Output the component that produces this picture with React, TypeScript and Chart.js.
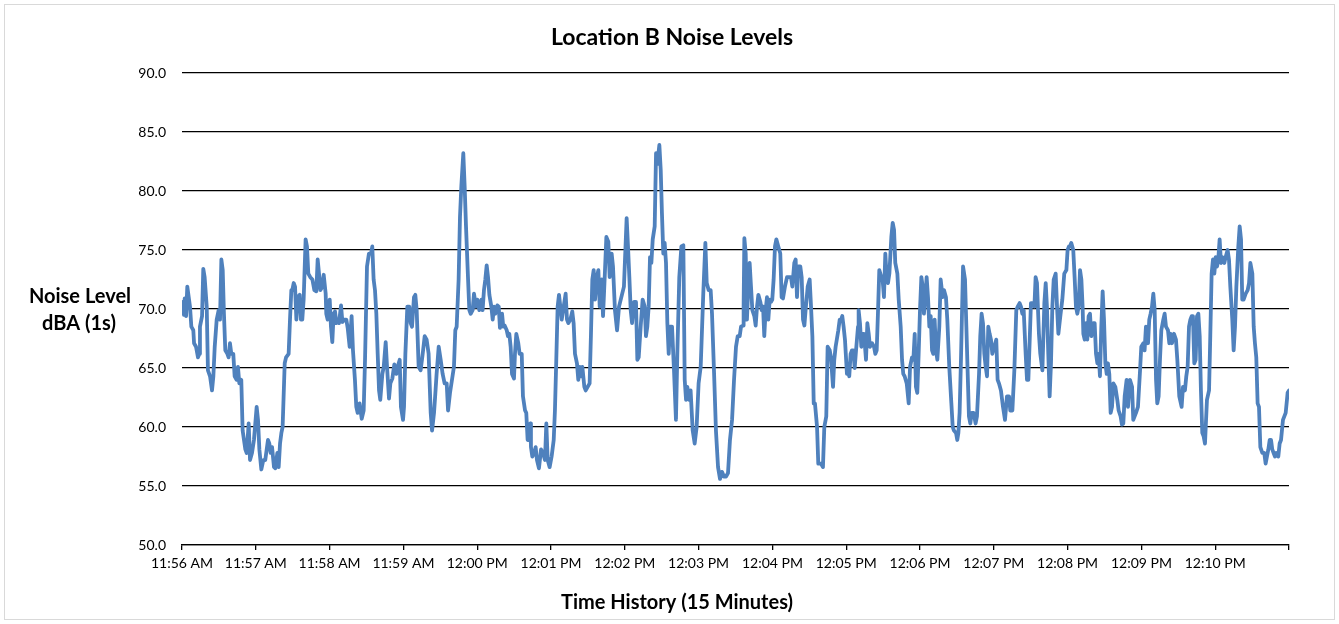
import React, { useEffect, useRef } from "react";
import { Chart, registerables } from "chart.js";

Chart.register(...registerables);

const chartTitle = "Location B Noise Levels";
const yAxisTitle = ["Noise Level", "dBA (1s)"];
const xAxisTitle = "Time History (15 Minutes)";
const xTickLabels = [
  "11:56 AM", "11:57 AM", "11:58 AM", "11:59 AM", "12:00 PM", "12:01 PM", "12:02 PM", "12:03 PM",
  "12:04 PM", "12:05 PM", "12:06 PM", "12:07 PM", "12:08 PM", "12:09 PM", "12:10 PM",
];

// elapsed seconds since 11:56:00 AM
const seconds = [
  0, 1.6, 2.2, 3.3, 4.3, 6.5, 7.6, 9.2, 9.8, 11.4, 13.0, 14.1, 14.6, 16.3, 17.3, 18.4, 20.1, 21.1, 22.8, 24.4,
  25.5, 26.6, 28.2, 29.8, 30.9, 32.0, 33.1, 34.1, 35.2, 36.9, 37.9, 39.0, 40.1, 41.7, 42.8, 44.4, 45.5, 46.6, 48.2, 49.3,
  51.5, 52.6, 54.2, 55.3, 56.9, 58.5, 60.7, 61.8, 62.9, 64.5, 66.1, 67.7, 69.9, 71.0, 72.1, 73.2, 74.8, 75.9, 77.5, 78.6,
  79.7, 80.8, 81.8, 83.5, 84.6, 86.7, 87.8, 88.9,
  89.7, 90.8, 91.9, 93.0, 94.0, 95.7, 96.7, 97.8, 98.9, 100.5, 101.6, 102.7, 104.3, 106.0, 107.6, 109.2, 110.3, 111.4, 112.5, 113.6,
  115.2, 116.8, 117.3, 118.4, 120.1, 121.1, 122.2, 123.3, 124.4, 125.5, 126.6, 127.6, 129.3, 130.4, 132.0, 133.6, 134.7, 136.3, 137.9, 139.0,
  140.6, 141.7, 142.8, 144.4, 146.1, 147.7, 148.8, 150.4, 152.0, 153.7, 154.7, 155.8, 156.9, 158.0, 159.1, 160.2, 161.2, 162.9, 164.0, 165.6,
  166.7, 168.3, 169.4, 171.0, 172.6, 174.3, 175.3, 177.0, 178.0, 179.7,
  180.5, 181.6, 183.2, 184.8, 185.9, 187.0, 188.6, 189.7, 190.8, 192.4, 194.0, 195.7, 197.3, 198.9, 200.5, 202.2, 203.3, 204.9, 206.0, 207.0,
  208.7, 210.3, 211.9, 213.5, 215.2, 216.3, 217.9, 219.5, 221.1, 222.2, 223.3, 224.9, 226.0, 227.1, 228.7, 229.8, 230.9, 232.5, 233.6, 234.7,
  236.3, 237.4, 239.0, 240.1, 241.7, 243.4, 244.4, 245.5, 246.6, 247.7, 248.8, 249.9, 251.5, 252.6, 253.7, 254.7, 256.4, 257.5, 258.5, 260.2,
  261.2, 262.3, 264.0, 265.0, 266.1, 267.2, 268.3, 269.9,
  270.7, 271.8, 273.4, 274.5, 276.2, 277.2, 278.9, 279.9, 281.0, 282.1, 283.2, 283.7, 284.8, 286.4, 287.5, 288.6, 290.2, 291.9, 293.5, 295.1,
  296.2, 297.3, 298.9, 300.5, 302.2, 303.2, 304.3, 305.4, 306.5, 307.6, 308.7, 310.3, 311.9, 313.0, 314.1, 315.7, 317.3, 318.4, 319.5, 321.1,
  322.2, 323.3, 324.4, 325.5, 327.1, 328.2, 329.8, 331.4, 332.5, 333.6, 334.7, 335.8, 336.9, 338.5, 339.6, 341.2, 342.3, 343.9, 345.0, 346.6,
  347.7, 349.3, 350.4, 352.0, 353.7, 355.3,
  359.3, 361.5, 362.6, 363.7, 364.8, 365.9, 367.5, 369.1, 370.2, 371.3, 372.9, 374.5, 376.2, 377.2, 378.3, 379.4, 380.5, 381.6, 382.7, 384.3,
  385.4, 386.4, 388.1, 389.2, 390.2, 391.3, 392.4, 393.5, 394.6, 395.7, 396.7, 398.4, 400.0, 401.6, 402.7, 404.3, 406.0, 407.6, 408.7, 409.8,
  410.8, 412.5, 413.5, 415.2, 416.8, 418.4, 420.0, 421.7, 423.8, 425.5, 426.6, 428.2, 429.8, 430.9, 432.5, 434.1, 435.8, 437.4, 439.0, 440.6,
  442.3, 443.9, 445.5, 447.2, 448.8, 450.4,
  451.8, 453.4, 454.5, 456.1, 456.6, 457.2, 458.3, 459.3, 460.4, 461.5, 462.6, 463.7, 465.3, 466.4, 467.5, 468.6, 470.2, 471.3, 472.4, 473.4,
  474.5, 475.6, 476.7, 477.8, 478.9, 479.9, 481.0, 482.1, 483.2, 484.8, 486.4, 487.5, 488.6, 490.2, 491.9, 493.5, 495.1, 496.2, 497.8, 498.9,
  500.0, 501.1, 502.7, 503.8, 504.9, 506.0, 507.0, 508.7, 510.3, 511.4, 512.5, 513.6, 514.6, 516.3, 517.3, 519.5, 521.1, 522.2, 523.8, 524.9,
  526.6, 527.6, 529.3, 530.3, 531.4, 533.6, 534.7, 535.8, 536.8, 537.9, 539.0, 540.6,
  541.5, 542.5, 543.6, 544.7, 545.8, 546.9, 548.0, 549.6, 550.1, 551.2, 552.3, 553.4, 554.5, 556.1, 557.2, 558.3, 559.3, 561.0, 562.6, 563.7,
  564.8, 565.8, 566.9, 568.6, 569.6, 570.7, 571.8, 572.9, 574.0, 575.1, 576.7, 577.8, 578.9, 579.9, 581.6, 582.7, 584.3, 585.4, 586.4, 587.5,
  589.2, 590.8, 591.9, 593.5, 594.6, 595.7, 596.7, 597.8, 598.9, 600.0, 601.1, 602.2, 603.2, 604.3, 605.4, 606.5, 607.6, 608.7, 609.8, 610.8,
  611.9, 613.0, 614.1, 615.7, 616.8, 618.4, 619.5, 621.1, 622.2, 623.8, 625.5, 626.6, 627.6, 629.3, 630.3,
  631.2, 632.2, 633.3, 635.0, 636.6, 637.7, 638.7, 639.8, 640.9, 642.0, 643.6, 645.2, 646.3, 648.0, 649.0, 650.1, 651.2, 652.3, 653.4, 654.5,
  655.5, 656.6, 657.7, 658.8, 660.4, 662.0, 663.1, 664.2, 665.8, 667.5, 669.1, 670.7, 672.4, 673.4, 675.1, 676.7, 678.3, 679.4, 681.0, 682.1,
  683.2, 684.3, 685.9, 687.0, 688.1, 689.2, 690.2, 691.9, 693.0, 694.0, 695.1, 696.7, 697.8, 699.5, 701.1, 702.2, 703.2, 704.3, 705.4, 706.5,
  707.6, 708.7, 710.3, 711.4, 712.5, 714.1, 715.7, 717.3, 719.0, 720.0, 721.1,
  721.9, 723.0, 724.6, 725.7, 726.8, 727.9, 729.0, 730.1, 731.2, 732.2, 732.8, 733.9, 735.0, 736.0, 737.1, 738.2, 739.3, 740.9, 742.0, 743.1,
  744.2, 745.3, 746.3, 747.4, 748.5, 749.6, 750.7, 751.8, 752.8, 753.9, 755.0, 756.1, 757.2, 758.8, 760.4, 761.5, 763.1, 764.2, 765.3, 766.4,
  768.0, 769.1, 770.7, 772.4, 773.4, 774.5, 775.6, 777.2, 778.9, 779.9, 781.6, 782.6, 783.7, 785.4, 786.4, 787.5, 788.6, 789.7, 790.8, 791.9,
  792.9, 794.0, 795.1, 796.2, 797.8, 798.9, 800.0, 801.6, 802.7, 803.8, 804.9, 806.5, 808.1, 809.2, 810.8,
  812.7, 813.8, 815.4, 816.5, 817.6, 818.7, 819.8, 820.9, 821.9, 823.0, 824.1, 825.2, 826.3, 827.4, 828.4, 829.5, 830.6, 831.7, 833.3, 835.0,
  836.0, 837.1, 838.2, 839.3, 840.4, 841.5, 842.5, 843.6, 844.7, 845.8, 847.4, 848.5, 850.1, 851.2, 852.3, 853.9, 855.0, 856.1, 857.2, 858.8,
  859.9, 861.0, 862.0, 863.1, 864.8, 866.4, 867.5, 868.6, 870.2, 871.3, 872.3, 873.4, 874.5, 875.6, 876.7, 878.3, 879.9, 881.0, 882.1, 883.2,
  884.3, 885.4, 886.4, 887.5, 888.6, 889.7, 891.3, 892.4, 893.5, 895.1, 896.2, 897.3, 898.9, 900.0,
];

const dba = [
  70.6, 69.5, 70.9, 69.4, 71.9, 70.2, 68.5, 68.2, 67.1, 66.8, 65.9, 66.2, 68.5, 69.4, 73.4, 72.7, 70.2, 64.8, 64.3, 63.1,
  64.3, 66.8, 69.1, 69.9, 69.1, 74.2, 73.3, 69.6, 66.5, 66.2, 65.9, 67.1, 66.2, 66.2, 64.3, 64.0, 65.1, 63.7, 64.0, 59.7,
  58.1, 57.8, 60.3, 57.2, 57.8, 58.9, 61.7, 60.6, 58.1, 56.4, 57.2, 57.2, 58.9, 58.6, 57.8, 58.3, 56.6, 56.5, 57.8, 56.6,
  58.6, 59.5, 60.0, 65.4, 65.9, 66.2, 69.1, 71.6,
  71.6, 72.2, 71.9, 69.1, 71.0, 71.2, 69.1, 69.1, 70.8, 75.9, 75.3, 73.0, 72.7, 72.5, 71.6, 71.5, 74.2, 73.0, 71.6, 71.8,
  72.9, 71.3, 69.6, 69.1, 70.8, 68.5, 67.2, 69.6, 69.8, 68.8, 69.1, 68.8, 70.3, 68.9, 69.1, 69.1, 68.4, 66.8, 69.4, 66.5,
  64.0, 61.7, 61.2, 62.0, 60.7, 61.4, 65.7, 73.6, 74.7, 74.7, 75.3, 72.5, 71.6, 69.6, 66.2, 63.1, 62.3, 64.5, 65.1, 67.2,
  65.1, 62.4, 63.7, 64.1, 65.3, 64.5, 65.1, 65.7, 61.7, 60.6,
  61.7, 66.2, 70.2, 70.2, 68.8, 68.5, 71.0, 71.2, 69.9, 65.1, 64.8, 66.2, 67.7, 67.4, 66.2, 61.2, 59.7, 61.2, 62.9, 64.5,
  66.8, 65.7, 64.5, 63.7, 63.7, 61.4, 62.9, 64.0, 65.1, 68.2, 68.5, 72.5, 77.8, 80.4, 83.2, 80.4, 77.0, 72.7, 69.9, 69.6,
  69.9, 71.3, 70.2, 70.8, 69.9, 70.8, 69.9, 71.6, 72.5, 73.7, 72.7, 71.2, 70.2, 69.1, 70.2, 69.6, 70.3, 70.2, 68.4, 69.6,
  68.5, 68.6, 68.2, 67.7, 67.9, 66.8, 64.5, 64.1,
  66.2, 67.9, 67.1, 66.2, 66.2, 62.6, 61.4, 61.2, 58.9, 58.9, 60.3, 58.3, 57.5, 57.8, 58.3, 57.2, 56.5, 58.1, 57.8, 57.2,
  60.3, 57.2, 56.6, 57.5, 58.9, 61.4, 65.7, 70.2, 71.2, 70.2, 69.1, 70.2, 71.3, 69.1, 68.8, 69.1, 69.8, 68.8, 66.2, 65.4,
  64.0, 65.1, 64.3, 65.1, 63.4, 63.1, 63.4, 63.7, 67.9, 72.5, 73.3, 70.8, 72.5, 73.3, 70.2, 72.5, 69.4, 73.3, 76.1, 75.7,
  72.7, 74.7, 73.6, 69.9, 68.2, 70.2,
  71.9, 77.7, 75.3, 72.7, 69.9, 68.8, 70.6, 70.6, 65.7, 65.9, 68.5, 70.8, 70.2, 67.7, 68.5, 70.2, 74.4, 73.9, 75.9, 77.0,
  83.2, 82.3, 83.9, 81.8, 78.1, 74.7, 75.6, 73.9, 68.8, 66.2, 68.5, 68.5, 64.8, 60.6, 66.2, 72.7, 75.3, 75.4, 64.0, 62.3,
  63.4, 62.3, 63.1, 59.7, 58.6, 60.0, 63.7, 65.1, 71.3, 75.6, 72.2, 71.6, 71.6, 69.6, 64.8, 59.7, 56.6, 55.6, 56.2, 55.8,
  55.8, 56.1, 58.9, 60.6, 64.0, 66.8,
  67.7, 67.7, 68.5, 68.6, 70.2, 76.0, 74.7, 69.1, 71.9, 73.9, 71.9, 69.9, 69.4, 68.6, 70.2, 71.2, 70.6, 69.9, 70.2, 67.7,
  69.9, 71.0, 69.1, 70.8, 70.6, 70.8, 72.5, 75.3, 75.9, 75.3, 74.7, 71.0, 70.9, 71.9, 72.7, 72.7, 72.7, 71.9, 73.9, 74.2,
  71.0, 73.6, 73.6, 72.7, 69.1, 68.6, 69.9, 71.9, 72.5, 70.2, 67.7, 62.0, 62.0, 60.0, 56.9, 56.9, 56.6, 60.0, 60.9, 66.8,
  66.5, 65.9, 63.4, 65.7, 66.8, 68.2, 69.1, 69.1, 69.4, 68.5, 67.4, 64.5,
  64.8, 64.3, 66.2, 66.5, 66.5, 65.0, 66.5, 68.5, 69.9, 68.8, 66.8, 67.9, 67.9, 65.7, 68.8, 67.9, 66.8, 67.1, 66.8, 66.2,
  66.5, 69.6, 73.3, 72.7, 72.5, 71.0, 74.7, 72.7, 72.2, 73.0, 76.1, 77.3, 76.7, 73.9, 73.0, 70.8, 68.5, 65.7, 64.5, 64.3,
  63.7, 62.0, 65.1, 65.9, 65.7, 67.9, 63.4, 62.9, 66.2, 69.9, 72.7, 71.9, 69.6, 71.0, 72.7, 71.0, 68.5, 69.4, 66.5, 66.2,
  69.1, 66.5, 65.7, 68.5, 72.5, 71.0, 71.6, 71.0, 69.1, 65.1, 62.0, 60.0, 59.7, 59.5, 58.9,
  59.5, 61.2, 65.7, 73.6, 72.5, 68.5, 64.8, 60.9, 60.3, 61.2, 61.2, 60.3, 60.9, 64.5, 67.7, 69.6, 68.8, 66.2, 65.1, 64.3,
  68.5, 67.9, 67.4, 66.2, 66.8, 67.4, 64.0, 63.7, 63.1, 61.7, 60.6, 62.6, 62.6, 61.4, 61.4, 64.8, 69.9, 70.2, 70.5, 70.2,
  69.6, 69.9, 66.2, 64.0, 64.0, 67.4, 70.5, 70.5, 70.2, 72.7, 72.2, 67.9, 66.2, 64.8, 70.5, 72.2, 70.2, 66.2, 62.6, 65.4,
  70.2, 72.5, 73.0, 70.2, 67.9, 69.4, 70.8, 73.0, 73.3, 75.0, 75.3,
  75.3, 75.6, 75.0, 72.7, 70.2, 69.6, 70.2, 73.3, 72.5, 70.2, 67.9, 67.4, 68.8, 67.4, 69.4, 69.6, 67.7, 68.8, 68.8, 66.2,
  65.4, 66.2, 64.3, 68.5, 71.5, 69.1, 65.4, 64.5, 65.4, 64.5, 61.2, 61.7, 63.7, 63.4, 62.3, 61.4, 60.9, 60.2, 60.3, 62.6,
  64.0, 61.7, 64.0, 63.4, 60.6, 60.9, 61.2, 61.7, 64.8, 66.8, 67.1, 66.5, 68.5, 67.1, 69.1, 69.6, 70.2, 71.3, 69.9, 64.0,
  62.0, 62.6, 65.7, 68.2, 69.1, 69.6, 68.5, 68.2, 67.1, 67.9, 67.1, 67.9, 67.4, 65.7, 62.6,
  61.7, 63.4, 63.1, 64.3, 65.1, 68.5, 69.1, 69.4, 69.4, 65.4, 65.7, 69.4, 69.6, 67.7, 63.1, 59.5, 59.2, 58.6, 62.3, 63.1,
  67.7, 73.0, 74.2, 73.0, 74.4, 73.6, 74.2, 75.9, 73.9, 74.4, 73.9, 74.4, 75.0, 74.2, 71.9, 69.1, 66.5, 68.5, 71.9, 75.3,
  77.0, 75.9, 70.8, 70.8, 71.3, 71.6, 72.2, 73.9, 73.0, 68.5, 67.1, 65.9, 62.0, 61.7, 58.3, 57.8, 57.8, 56.9, 57.5, 58.1,
  58.9, 58.9, 58.1, 57.8, 57.5, 57.8, 57.5, 58.6, 58.9, 60.6, 60.9, 61.2, 62.9, 63.1,
];

const FONT = "Lato, 'Open Sans', sans-serif";

export default function App() {
  const canvasRef = useRef<HTMLCanvasElement | null>(null);

  useEffect(() => {
    document.body.style.margin = "0";
    const canvas = canvasRef.current;
    if (!canvas) return;

    const textPlugin = {
      id: "textPlugin",
      beforeDraw(chart: any) {
        const c = chart.ctx;
        c.save();
        c.fillStyle = "#ffffff";
        c.fillRect(0, 0, chart.width, chart.height);
        c.strokeStyle = "#d9d9d9";
        c.lineWidth = 1;
        c.strokeRect(4.5, 4.5, chart.width - 9, chart.height - 9);
        c.restore();
      },
      afterDraw(chart: any) {
        const c = chart.ctx;
        c.save();
        c.fillStyle = "#000000";
        c.textAlign = "center";
        c.textBaseline = "middle";
        c.font = `bold 23px ${FONT}`;
        c.fillText(chartTitle, 672, 38);
        c.font = `bold 20px ${FONT}`;
        c.fillText(yAxisTitle[0], 80, 297);
        c.fillText(yAxisTitle[1], 79, 324);
        c.fillText(xAxisTitle, 677, 603);
        c.restore();
      },
    };

    const chart = new Chart(canvas, {
      type: "line",
      data: {
        datasets: [
          {
            data: seconds.map((t, i) => ({ x: t, y: dba[i] })),
            borderColor: "#4F81BD",
            borderWidth: 3.8,
            pointRadius: 0,
            tension: 0,
            fill: false,
            borderJoinStyle: "round",
            borderCapStyle: "round",
          },
        ],
      },
      options: {
        responsive: false,
        animation: false,
        layout: { padding: { left: 0, right: 50, top: 73, bottom: 0 } },
        plugins: {
          legend: { display: false },
          title: { display: false },
          tooltip: { enabled: false },
        },
        scales: {
          x: {
            type: "linear",
            min: 0,
            max: 900,
            afterFit(scale: any) {
              scale.height = 79;
            },
            ticks: {
              stepSize: 60,
              autoSkip: false,
              maxRotation: 0,
              padding: 5,
              color: "#000",
              font: { family: FONT, size: 14 },
              callback: (v: any) => xTickLabels[Math.round(Number(v) / 60)] ?? "",
            },
            grid: {
              display: true,
              drawOnChartArea: false,
              drawTicks: true,
              tickLength: 5,
              color: "#000",
              lineWidth: 1.3,
            },
            border: { display: true, color: "#000", width: 1.3 },
          },
          y: {
            min: 50,
            max: 90,
            afterFit(scale: any) {
              scale.width = 182;
            },
            ticks: {
              stepSize: 5,
              padding: 16,
              color: "#000",
              font: { family: FONT, size: 14 },
              callback: (v: any) => Number(v).toFixed(1),
            },
            grid: { color: "#000", drawTicks: false, lineWidth: 1.3 },
            border: { display: false },
          },
        },
      },
      plugins: [textPlugin],
    } as any);

    return () => chart.destroy();
  }, []);

  return (
    <canvas
      ref={canvasRef}
      width={1339}
      height={624}
      style={{ display: "block", width: 1339, height: 624 }}
    />
  );
}
